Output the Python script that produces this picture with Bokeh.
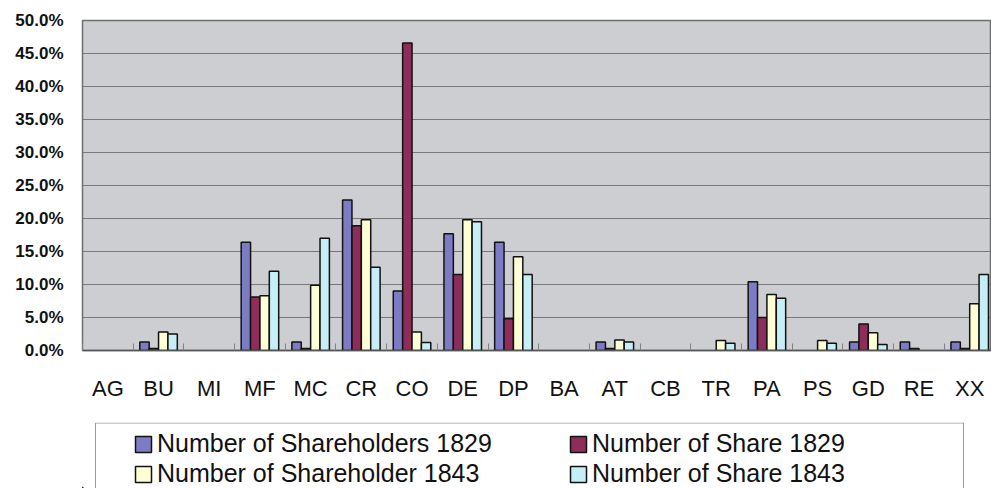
from bokeh.plotting import figure
from bokeh.models import (ColumnDataSource, Range1d, FixedTicker, Legend, LegendItem)
from bokeh.layouts import column
from bokeh.transform import dodge
from bokeh.embed import file_html
from bokeh.resources import INLINE

categories = ["AG", "BU", "MI", "MF", "MC", "CR", "CO", "DE", "DP",
              "BA", "AT", "CB", "TR", "PA", "PS", "GD", "RE", "XX"]
shareholders_1829 = [0, 1.3, 0, 16.4, 1.3, 22.8, 9.0, 17.7, 16.4,
                     0, 1.3, 0, 0, 10.4, 0, 1.3, 1.3, 1.3]
shares_1829 = [0, 0.3, 0, 8.1, 0.3, 18.9, 46.6, 11.5, 4.8,
               0, 0.3, 0, 0, 5.0, 0, 4.0, 0.3, 0.3]
shareholders_1843 = [0, 2.8, 0, 8.3, 9.9, 19.8, 2.8, 19.8, 14.2,
                     0, 1.6, 0, 1.5, 8.5, 1.5, 2.7, 0, 7.1]
shares_1843 = [0, 2.5, 0, 12.0, 17.0, 12.6, 1.2, 19.5, 11.5,
               0, 1.3, 0, 1.1, 7.9, 1.1, 0.9, 0, 11.5]
y_ticks = [0, 5, 10, 15, 20, 25, 30, 35, 40, 45, 50]
y_tick_labels = ["0.0%", "5.0%", "10.0%", "15.0%", "20.0%", "25.0%",
                 "30.0%", "35.0%", "40.0%", "45.0%", "50.0%"]

series = [
    ("Number of Shareholders 1829", shareholders_1829, "#7C7CC4", -0.2775),
    ("Number of Share 1829", shares_1829, "#8E2D5A", -0.0925),
    ("Number of Shareholder 1843", shareholders_1843, "#FFFFD6", 0.0925),
    ("Number of Share 1843", shares_1843, "#C6EEF6", 0.2775),
]

FONT = "Liberation Sans"
idx = list(range(len(categories)))

p = figure(width=991, height=422, output_backend="svg", toolbar_location=None,
           x_range=Range1d(-0.5, 17.43), y_range=Range1d(0, 50),
           frame_width=909, frame_height=330,
           min_border_left=82, min_border_right=0, min_border_top=20,
           min_border_bottom=72)
p.background_fill_color = "#CDCED2"
p.border_fill_color = "white"
p.outline_line_color = "#6E6E6E"
p.outline_line_width = 1.5

src = {"idx": idx}
for i, (name, vals, color, off) in enumerate(series):
    src[f"s{i}"] = vals
    src[f"a{i}"] = [0 if v == 0 else 1 for v in vals]
source = ColumnDataSource(src)

for i, (name, vals, color, off) in enumerate(series):
    p.vbar(x=dodge("idx", off, range=p.x_range), top=f"s{i}", bottom=0,
           width=0.185, source=source, fill_color=color,
           line_color="#111111", line_width=1.5, line_alpha=f"a{i}")

# axes
xa = p.xaxis[0]
xa.ticker = FixedTicker(ticks=idx, minor_ticks=[i + 0.5 for i in range(-1, 18)])
xa.major_label_overrides = {i: c for i, c in enumerate(categories)}
xa.major_tick_in = 0
xa.major_tick_out = 0
xa.minor_tick_in = 7
xa.minor_tick_out = 0
xa.minor_tick_line_color = "#808080"
xa.axis_line_color = "#555555"
xa.axis_line_width = 1.5
xa.major_label_text_font = FONT
xa.major_label_text_font_size = "22px"
xa.major_label_text_color = "#111111"
xa.major_label_standoff = 25

ya = p.yaxis[0]
ya.ticker = FixedTicker(ticks=y_ticks)
ya.major_label_overrides = {t: l for t, l in zip(y_ticks, y_tick_labels)}
ya.major_tick_in = 0
ya.major_tick_out = 0
ya.minor_tick_in = 0
ya.minor_tick_out = 0
ya.axis_line_color = None
ya.major_label_text_font = FONT
ya.major_label_text_font_size = "17px"
ya.major_label_text_font_style = "bold"
ya.major_label_text_color = "#111111"
ya.major_label_standoff = 19

p.xgrid.visible = False
p.ygrid.ticker = FixedTicker(ticks=y_ticks)
p.ygrid.grid_line_color = "#777777"
p.ygrid.grid_line_width = 1.2

# legend panel (x/y ranges in pixels of its own frame)
q = figure(width=991, height=66, output_backend="svg", toolbar_location=None,
           x_range=Range1d(0, 909), y_range=Range1d(0, 66),
           x_axis_type=None, y_axis_type=None,
           frame_width=909, frame_height=66,
           min_border_left=82, min_border_right=0, min_border_top=0,
           min_border_bottom=0)
q.outline_line_color = None
q.background_fill_color = "white"
q.border_fill_color = "white"
q.xgrid.visible = False
q.ygrid.visible = False
q.quad(left=[13], right=[881], top=[65.5], bottom=[-10],
       fill_color=None, line_color="#9A9A9A", line_width=1)

dummy = []
for name, vals, color, off in series:
    r = q.vbar(x=[-100], top=[1], width=1, fill_color=color,
               line_color="#111111", line_width=1.5)
    dummy.append((name, r))


def make_legend(items, loc):
    lg = Legend(items=[LegendItem(label=n, renderers=[r]) for n, r in items],
                location=loc, orientation="vertical")
    lg.label_text_font = FONT
    lg.label_text_font_size = "25px"
    lg.label_text_color = "#111111"
    lg.glyph_width = 20
    lg.glyph_height = 20
    lg.label_standoff = 4
    lg.spacing = 1
    lg.padding = 0
    lg.margin = 0
    lg.border_line_alpha = 0
    lg.background_fill_alpha = 0
    return lg


q.add_layout(make_legend([dummy[0], dummy[2]], (51, 0)))
q.add_layout(make_legend([dummy[1], dummy[3]], (486, 0)))

layout = column(p, q, spacing=0)
open("out.html", "w").write(file_html(layout, INLINE))
